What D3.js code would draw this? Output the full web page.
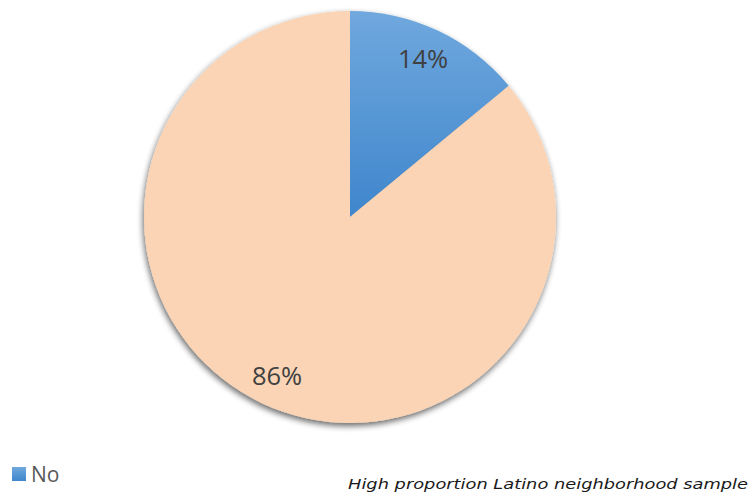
<!DOCTYPE html>
<html><head><meta charset="utf-8">
<script src="https://cdn.jsdelivr.net/npm/d3@7"></script>
<style>body{margin:0;background:#fff}svg{display:block}</style>
</head><body>
<svg id="c" width="751" height="497"></svg>
<script>
const categories = ["No", "Yes"];
const values = [14, 86];
const labels = ["14%", "86%"];
const legendItems = ["No"];
const caption = "High proportion Latino neighborhood sample";

const svg = d3.select("#c");
const defs = svg.append("defs");
const cx = 350, cy = 217, r = 206;
const g1 = defs.append("linearGradient").attr("id","gBlue").attr("gradientUnits","userSpaceOnUse")
  .attr("x1",0).attr("y1",-r).attr("x2",0).attr("y2",0);
g1.append("stop").attr("offset","0%").attr("stop-color","#70a8de");
g1.append("stop").attr("offset","100%").attr("stop-color","#3f86cc");
const lg = defs.append("linearGradient").attr("id","gLeg").attr("x1",0).attr("y1",0).attr("x2",0).attr("y2",1);
lg.append("stop").attr("offset","0%").attr("stop-color","#70a8de");
lg.append("stop").attr("offset","100%").attr("stop-color","#3f86cc");
const f = defs.append("filter").attr("id","sh").attr("x","-20%").attr("y","-20%").attr("width","140%").attr("height","140%");
f.append("feGaussianBlur").attr("in","SourceAlpha").attr("stdDeviation",3).attr("result","b");
f.append("feOffset").attr("in","b").attr("dx",-1).attr("dy",3).attr("result","o");
f.append("feComponentTransfer").attr("in","o").attr("result","o2").append("feFuncA").attr("type","linear").attr("slope",0.6);
const m = f.append("feMerge"); m.append("feMergeNode").attr("in","o2"); m.append("feMergeNode").attr("in","SourceGraphic");

const fills = ["url(#gBlue)", "#fad4b4"];
const pie = d3.pie().sort(null).value(d => d)(values);
const arc = d3.arc().innerRadius(0).outerRadius(r);
const g = svg.append("g").attr("transform",`translate(${cx},${cy})`);
const sg = g.append("g").attr("filter","url(#sh)");
sg.selectAll("path").data(pie).join("path").attr("d",arc).attr("fill",(d,i)=>fills[i]);

const labelPos = [[73,-149],[-73,168]];
g.selectAll("text.lbl").data(labels).join("text").attr("class","lbl")
 .attr("x",(d,i)=>labelPos[i][0]).attr("y",(d,i)=>labelPos[i][1])
 .attr("text-anchor","middle").attr("font-family","Open Sans, sans-serif").attr("font-size",25.5)
 .attr("fill","#404040").text(d=>d);

const leg = svg.append("g");
leg.selectAll("rect").data(legendItems).join("rect").attr("x",12).attr("y",467).attr("width",14).attr("height",14).attr("fill","url(#gLeg)");
leg.selectAll("text").data(legendItems).join("text").attr("x",31).attr("y",482).attr("font-family","Open Sans, sans-serif").attr("font-size",21).attr("fill","#595959").text(d=>d);

svg.append("text").attr("x",348).attr("y",489)
 .attr("font-family","DejaVu Sans, Verdana, sans-serif").attr("font-style","italic").attr("font-size",13.5)
 .attr("textLength",400).attr("lengthAdjust","spacingAndGlyphs")
 .attr("fill","#1a1a1a").text(caption);
</script>
</body></html>
